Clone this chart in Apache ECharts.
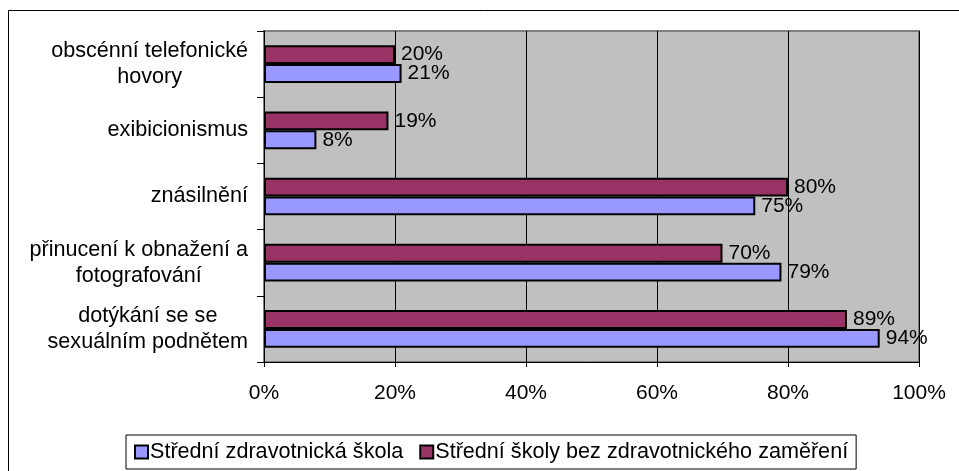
<!DOCTYPE html>
<html>
<head>
<meta charset="utf-8">
<script src="https://cdn.jsdelivr.net/npm/echarts@6/dist/echarts.min.js"></script>
<style>html,body{margin:0;padding:0;background:#fff}#c{width:959px;height:471px}</style>
</head>
<body>
<div id="c"></div>
<script>
const categories = [
  'dotýkání se se\nsexuálním podnětem',
  'přinucení k obnažení a\nfotografování',
  'znásilnění',
  'exibicionismus',
  'obscénní telefonické\nhovory'
];
const seriesNames = ['Střední zdravotnická škola', 'Střední školy bez zdravotnického zaměření'];
const zdravotnicka = [94, 79, 75, 8, 21];
const bezZamereni = [89, 70, 80, 19, 20];
const xTicks = [0, 20, 40, 60, 80, 100];

const FONT = '"Liberation Sans", Arial, sans-serif';
const FS = 21;
const FS_CAT = 21.6;
const chart = echarts.init(document.getElementById('c'), null, {renderer: 'canvas'});
const labelCfg = {show: true, position: 'right', distance: 6, formatter: '{c}%', color: '#000', fontFamily: FONT, fontSize: FS};
chart.setOption({
  animation: false,
  backgroundColor: '#fff',
  graphic: [{type: 'rect', shape: {x: 8.5, y: 10.5, width: 1000, height: 1000}, style: {fill: 'none', stroke: '#000', lineWidth: 1}, silent: true}],
  grid: {left: 264, right: 40, top: 31, bottom: 109, show: true, backgroundColor: '#C0C0C0', borderColor: '#808080', borderWidth: 2},
  legend: {
    data: seriesNames, left: 126, top: 435, orient: 'horizontal',
    backgroundColor: '#fff', borderColor: '#000', borderWidth: 1, padding: [6, 8],
    icon: 'rect', itemWidth: 13, itemHeight: 13, itemGap: 16,
    textStyle: {fontFamily: FONT, fontSize: FS_CAT, color: '#000', padding: [0, 0, 0, -3]},
    itemStyle: {borderColor: '#000', borderWidth: 2}
  },
  xAxis: {
    type: 'value', min: xTicks[0], max: xTicks[xTicks.length - 1], interval: 20,
    axisLine: {show: true, lineStyle: {color: '#000', width: 1}},
    axisTick: {show: true, length: 5, lineStyle: {color: '#000'}},
    splitLine: {show: true, lineStyle: {color: '#000', width: 1}},
    axisLabel: {formatter: '{value}%', fontFamily: FONT, fontSize: FS, color: '#000', margin: 21}
  },
  yAxis: {
    type: 'category', data: categories,
    axisLine: {show: true, lineStyle: {color: '#000', width: 1}},
    axisTick: {show: true, length: 7, lineStyle: {color: '#000'}},
    axisLabel: {
      color: '#000', margin: 16, align: 'right',
      formatter: v => v.split('\n').map(s => '{c|' + s + '}').join('\n'),
      rich: {c: {align: 'center', fontFamily: FONT, fontSize: FS_CAT, lineHeight: 26, color: '#000'}}
    },
    splitLine: {show: false}
  },
  series: [
    {name: seriesNames[1], type: 'bar', data: bezZamereni, barCategoryGap: '43%', barGap: '0%',
     itemStyle: {color: '#993366', borderColor: '#000', borderWidth: 2}, label: labelCfg},
    {name: seriesNames[0], type: 'bar', data: zdravotnicka,
     itemStyle: {color: '#9999FF', borderColor: '#000', borderWidth: 2}, label: labelCfg}
  ]
});
</script>
</body>
</html>
